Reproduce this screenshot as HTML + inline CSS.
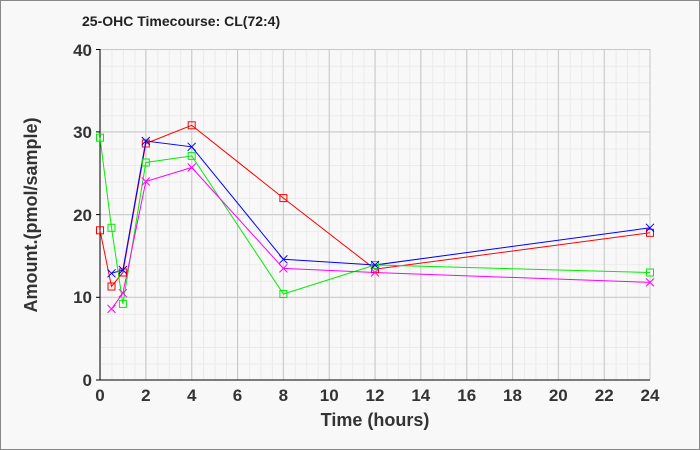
<!DOCTYPE html>
<html><head><style>body{margin:0;background:#fff}svg{display:block}</style></head>
<body>
<svg width="700" height="450" xmlns="http://www.w3.org/2000/svg" font-family="Liberation Sans, sans-serif">
<defs>
<pattern id="mg" patternUnits="userSpaceOnUse" x="100" y="49.2" width="11.458" height="16.54">
<path d="M0.5 0V16.54M0 0.5H11.458" stroke="#ebebeb" stroke-width="1" fill="none"/>
</pattern>
</defs>
<rect x="0.5" y="0.5" width="699" height="449" fill="#f8f8f8" stroke="#888"/>
<rect x="100" y="49.2" width="550" height="330.8" fill="url(#mg)"/>
<g stroke="#c8c8c8" stroke-width="1">
<line x1="145.8" y1="49" x2="145.8" y2="380"/><line x1="191.7" y1="49" x2="191.7" y2="380"/>
<line x1="237.5" y1="49" x2="237.5" y2="380"/><line x1="283.3" y1="49" x2="283.3" y2="380"/>
<line x1="329.2" y1="49" x2="329.2" y2="380"/><line x1="375" y1="49" x2="375" y2="380"/>
<line x1="420.8" y1="49" x2="420.8" y2="380"/><line x1="466.7" y1="49" x2="466.7" y2="380"/>
<line x1="512.5" y1="49" x2="512.5" y2="380"/><line x1="558.3" y1="49" x2="558.3" y2="380"/>
<line x1="604.2" y1="49" x2="604.2" y2="380"/><line x1="650" y1="49" x2="650" y2="380"/>
<line x1="100" y1="49.5" x2="650" y2="49.5"/><line x1="100" y1="131.9" x2="650" y2="131.9"/>
<line x1="100" y1="214.6" x2="650" y2="214.6"/><line x1="100" y1="297.3" x2="650" y2="297.3"/>
</g>
<g stroke="#000" stroke-width="1">
<line x1="100" y1="49" x2="100" y2="380"/><line x1="100" y1="380" x2="650" y2="380"/>
<line x1="96" y1="49.5" x2="100" y2="49.5"/><line x1="96" y1="131.9" x2="100" y2="131.9"/>
<line x1="96" y1="214.6" x2="100" y2="214.6"/><line x1="96" y1="297.3" x2="100" y2="297.3"/>
<line x1="96" y1="380" x2="100" y2="380"/>
</g>
<text x="82" y="26" font-size="14" font-weight="bold" fill="#222">25-OHC Timecourse: CL(72:4)</text>
<g font-size="17" font-weight="bold" fill="#333" text-anchor="end">
<text x="92" y="56">40</text><text x="92" y="138">30</text><text x="92" y="221">20</text><text x="92" y="303">10</text><text x="92" y="386">0</text>
</g>
<g font-size="17" font-weight="bold" fill="#333" text-anchor="middle">
<text x="100" y="401">0</text><text x="145.8" y="401">2</text><text x="191.7" y="401">4</text><text x="237.5" y="401">6</text>
<text x="283.3" y="401">8</text><text x="329.2" y="401">10</text><text x="375" y="401">12</text><text x="420.8" y="401">14</text>
<text x="466.7" y="401">16</text><text x="512.5" y="401">18</text><text x="558.3" y="401">20</text><text x="604.2" y="401">22</text><text x="650" y="401">24</text>
</g>
<text x="375" y="426" font-size="18" font-weight="bold" fill="#333" text-anchor="middle">Time (hours)</text>
<text transform="translate(37,215) rotate(-90)" font-size="18" font-weight="bold" fill="#333" text-anchor="middle">Amount.(pmol/sample)</text>

<g fill="none" stroke-width="1">
<polyline stroke="#f00" points="100,230.3 111.5,286.5 122.9,272.5 145.8,143.5 191.7,125.3 283.4,198.1 375,269.2 650,232.8"/>
<polyline stroke="#00f" points="111.5,273.3 122.9,270 145.8,141 191.7,146.8 283.4,259.3 375,265 650,227.8"/>
<polyline stroke="#0e0" points="100,137.7 111.5,227.8 122.9,303.9 145.8,162.5 191.7,155.9 283.4,294 375,265 650,272.5"/>
<polyline stroke="#f0f" points="111.5,308.9 122.9,293.2 145.8,181.5 191.7,167.5 283.4,268.4 375,272.5 650,282.4"/>
<g stroke="#f00">
<rect x="96.5" y="226.8" width="7" height="7"/><rect x="108" y="283" width="7" height="7"/><rect x="119.4" y="269" width="7" height="7"/>
<rect x="142.3" y="140" width="7" height="7"/><rect x="188.2" y="121.8" width="7" height="7"/><rect x="279.9" y="194.6" width="7" height="7"/>
<rect x="371.5" y="265.7" width="7" height="7"/><rect x="646.5" y="229.3" width="7" height="7"/>
</g>
<g stroke="#0e0">
<rect x="96.5" y="134.2" width="7" height="7"/><rect x="108" y="224.3" width="7" height="7"/><rect x="119.4" y="300.4" width="7" height="7"/>
<rect x="142.3" y="159" width="7" height="7"/><rect x="188.2" y="152.4" width="7" height="7"/><rect x="279.9" y="290.5" width="7" height="7"/>
<rect x="371.5" y="261.5" width="7" height="7"/><rect x="646.5" y="269" width="7" height="7"/>
</g>
<path stroke="#00f" d="M107.5 269.3l8 8m-8 0l8 -8 M118.9 266l8 8m-8 0l8 -8 M141.8 137l8 8m-8 0l8 -8 M187.7 142.8l8 8m-8 0l8 -8 M279.4 255.3l8 8m-8 0l8 -8 M371 261l8 8m-8 0l8 -8 M646 223.8l8 8m-8 0l8 -8"/>
<path stroke="#f0f" d="M107.5 304.9l8 8m-8 0l8 -8 M118.9 289.2l8 8m-8 0l8 -8 M141.8 177.5l8 8m-8 0l8 -8 M187.7 163.5l8 8m-8 0l8 -8 M279.4 264.4l8 8m-8 0l8 -8 M371 268.5l8 8m-8 0l8 -8 M646 278.4l8 8m-8 0l8 -8"/>
</g>
</svg>
</body></html>
